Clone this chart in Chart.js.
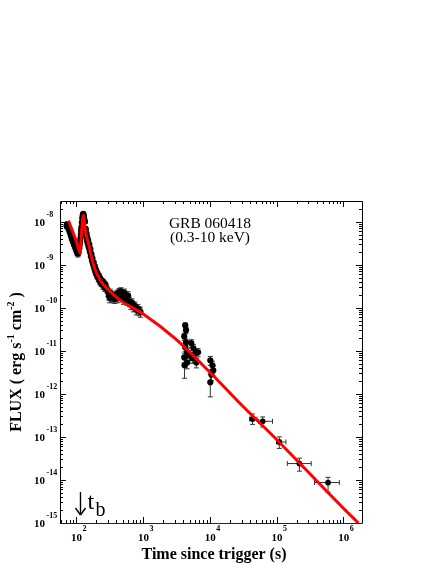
<!DOCTYPE html>
<html>
<head>
<meta charset="utf-8">
<script src="https://cdn.jsdelivr.net/npm/chart.js@4.4.0/dist/chart.umd.min.js"></script>
<style>
  html, body { margin: 0; padding: 0; background: #fff; }
  #wrap { width: 436px; height: 564px; }
</style>
</head>
<body>
<div id="wrap"><canvas id="grbChart" width="436" height="564"></canvas></div>
<script>
// GRB 060418 X-ray light curve
const earlyTime = [72, 74, 76, 78, 80, 82, 85, 88, 91, 94, 97, 100, 103, 106, 109, 112, 113.5, 115, 116.5, 118, 119, 120, 122, 124, 126, 128, 130, 132,
    136, 138, 140, 142, 144, 146, 148, 150, 152, 155, 158, 161, 164, 167, 170, 173, 176, 180, 184, 188, 192, 196, 200, 205, 210, 215, 220, 226, 232, 238, 245, 252, 260, 268, 276,
    290, 300, 310, 318, 326, 335, 345, 355, 368, 380, 395, 410, 425, 440, 455, 470, 490, 510, 530, 550, 575, 600, 630, 660, 690,
    720, 760, 800, 840, 880, 920];
const earlyFlux = [8.0e-9, 8.6e-9, 7.3e-9, 6.6e-9, 6.0e-9, 5.2e-9, 4.4e-9, 3.7e-9, 3.2e-9, 2.8e-9, 2.5e-9, 2.2e-9, 1.95e-9, 1.8e-9, 1.9e-9, 2.4e-9, 2.9e-9, 3.4e-9, 4.1e-9, 5.0e-9, 6.0e-9, 7.2e-9, 9.5e-9, 1.2e-8, 1.4e-8, 1.5e-8, 1.4e-8, 1.2e-8,
    1.0e-8, 6.8e-9, 6.5e-9, 4.6e-9, 5.2e-9, 3.6e-9, 4.2e-9, 3.0e-9, 3.6e-9, 2.5e-9, 2.9e-9, 2.0e-9, 2.3e-9, 1.55e-9, 1.75e-9, 1.25e-9, 1.4e-9, 1.0e-9, 1.1e-9, 8.0e-10, 8.9e-10, 6.6e-10, 7.4e-10, 5.6e-10, 6.2e-10, 4.8e-10, 5.4e-10, 4.1e-10, 4.7e-10, 3.7e-10, 4.2e-10, 3.3e-10, 3.8e-10, 2.9e-10, 3.4e-10,
    2.7e-10, 2.3e-10, 1.9e-10, 1.7e-10, 2.2e-10, 1.8e-10, 2.0e-10, 1.7e-10, 1.9e-10, 1.6e-10, 1.8e-10, 2.1e-10, 1.7e-10, 2.3e-10, 1.9e-10, 2.4e-10, 2.0e-10, 1.6e-10, 2.2e-10, 1.8e-10, 1.5e-10, 1.9e-10, 1.4e-10, 1.2e-10, 1.3e-10,
    1.05e-10, 1.1e-10, 9.0e-11, 9.5e-11, 8.5e-11, 8.0e-11];
const earlyErr = [1.1e-9, 1.2e-9, 1.0e-9, 0.9e-9, 0.8e-9, 0.7e-9, 0.6e-9, 0.5e-9, 0.45e-9, 0.4e-9, 0.35e-9, 0.3e-9, 0.3e-9, 0.3e-9, 0.3e-9, 0.35e-9, 0.4e-9, 0.45e-9, 0.5e-9, 0.6e-9, 0.7e-9, 0.8e-9, 1.0e-9, 1.2e-9, 1.3e-9, 1.4e-9, 1.3e-9, 1.2e-9,
    1.0e-9, 0.8e-9, 0.7e-9, 0.5e-9, 0.5e-9, 0.4e-9, 0.4e-9, 0.35e-9, 0.35e-9, 0.3e-9, 0.3e-9, 0.25e-9, 0.25e-9, 0.2e-9, 0.2e-9, 0.17e-9, 0.17e-9, 1.4e-10, 1.4e-10, 1.2e-10, 1.2e-10, 1.0e-10, 1.0e-10, 0.9e-10, 0.9e-10, 0.8e-10, 0.8e-10, 0.7e-10, 0.7e-10, 0.6e-10, 0.6e-10, 0.6e-10, 0.6e-10, 0.5e-10, 0.5e-10,
    0.5e-10, 0.5e-10, 0.4e-10, 0.4e-10, 0.5e-10, 0.4e-10, 0.4e-10, 0.4e-10, 0.4e-10, 0.35e-10, 0.4e-10, 0.45e-10, 0.4e-10, 0.5e-10, 0.4e-10, 0.5e-10, 0.45e-10, 0.4e-10, 0.5e-10, 0.4e-10, 0.35e-10, 0.45e-10, 0.35e-10, 0.3e-10, 0.3e-10,
    0.25e-10, 0.25e-10, 2.2e-11, 2.3e-11, 2.0e-11, 2.0e-11];

// second and third orbit
const midTime = [4300, 4420, 4160, 4420, 4300, 4600, 4160, 4600, 4200, 5300, 5700, 6100, 5500, 6300, 6700, 4950,
    10200, 11000, 11300, 10600, 10200];
const midFlux = [3.9e-11, 3.0e-11, 2.15e-11, 1.57e-11, 1.2e-11, 9.2e-12, 7.0e-12, 5.3e-12, 4.6e-12, 1.5e-11, 1.14e-11, 8.7e-12, 6.7e-12, 5.3e-12, 9.2e-12, 7.9e-12,
    6.0e-12, 4.6e-12, 3.5e-12, 2.8e-12, 1.85e-12];
const midErr = [0.5e-11, 0.5e-11, 0.4e-11, 0.3e-11, 0.25e-11, 2.0e-12, 1.8e-12, 1.5e-12, 2.3e-12, 0.3e-11, 0.25e-11, 2.0e-12, 1.6e-12, 1.3e-12, 2.0e-12, 2.0e-12,
    1.4e-12, 1.1e-12, 0.9e-12, 0.8e-12, 1.0e-12];

// late binned points with time bins
const lateTime = [4.37e4, 6.2e4, 1.1e5, 2.2e5, 5.9e5];
const lateFlux = [2.6e-13, 2.3e-13, 7.6e-14, 2.4e-14, 8.7e-15];
const lateTimeLo = [3.96e4, 5.4e4, 1.0e5, 1.45e5, 3.7e5];
const lateTimeHi = [5.1e4, 8.7e4, 1.38e5, 3.3e5, 8.7e5];
const lateFluxLo = [1.95e-13, 1.7e-13, 5.4e-14, 1.6e-14, 5.2e-15];
const lateFluxHi = [3.4e-13, 2.9e-13, 1.0e-13, 3.2e-14, 1.15e-14];

// model curve
const fitTime = [77, 90, 103, 115, 119, 122, 125, 128, 131, 135, 140, 146, 153, 162, 172, 193, 229, 272, 363, 484, 767, 1000, 3050, 1e4, 2.8e4, 1e5, 1e6, 1.68e6];
const fitFlux = [1.05e-8, 5.6e-9, 3.2e-9, 1.85e-9, 4.0e-9, 7.0e-9, 1.1e-8, 1.4e-8, 1.2e-8, 8.2e-9, 5.4e-9, 4.1e-9, 3.2e-9, 2.1e-9, 1.4e-9, 7.6e-10, 4.4e-10, 3.1e-10, 2.0e-10, 1.4e-10, 9.2e-11, 7.2e-11, 1.9e-11, 3.2e-12, 6.1e-13, 8.7e-14, 2.2e-15, 1.0e-15];

const xTickExp = [2, 3, 4, 5, 6];
const yTickExp = [-8, -9, -10, -11, -12, -13, -14, -15];
const breakTime = 115;

const SERIF = '"Liberation Serif", "Times New Roman", serif';

function toPoints(xs, ys) {
    return xs.map((v, i) => ({ x: v, y: ys[i] }));
}

// error bars, frame, ticks and texts
const decor = {
    id: 'decor',
    beforeDatasetsDraw(chart) {
        const { ctx, scales: { x, y } } = chart;
        ctx.save();
        ctx.strokeStyle = '#333';
        ctx.lineWidth = 1;
        chart.data.datasets.forEach(ds => {
            if (!ds.errY) return;
            ds.data.forEach((p, i) => {
                const px = x.getPixelForValue(p.x);
                const lo = Math.max(ds.errY[i][0], 1e-16);
                const y0 = y.getPixelForValue(lo), y1 = y.getPixelForValue(ds.errY[i][1]);
                ctx.beginPath();
                ctx.moveTo(px, y0); ctx.lineTo(px, y1);
                ctx.moveTo(px - 2.5, y0); ctx.lineTo(px + 2.5, y0);
                ctx.moveTo(px - 2.5, y1); ctx.lineTo(px + 2.5, y1);
                if (ds.errX) {
                    const py = y.getPixelForValue(p.y);
                    const x0 = x.getPixelForValue(ds.errX[i][0]), x1 = x.getPixelForValue(ds.errX[i][1]);
                    ctx.moveTo(x0, py); ctx.lineTo(x1, py);
                    ctx.moveTo(x0, py - 2.5); ctx.lineTo(x0, py + 2.5);
                    ctx.moveTo(x1, py - 2.5); ctx.lineTo(x1, py + 2.5);
                }
                ctx.stroke();
            });
        });
        ctx.restore();
    },
    afterDraw(chart) {
        const { ctx, chartArea: a, scales: { x, y } } = chart;
        ctx.save();
        ctx.lineWidth = 1;
        ctx.strokeStyle = '#000';
        const seg = (x0, y0, x1, y1) => { ctx.beginPath(); ctx.moveTo(x0, y0); ctx.lineTo(x1, y1); ctx.stroke(); };

        // inward ticks on all four sides
        for (let e = 1; e <= 6; e++) {
            for (let m = 1; m <= 9; m++) {
                const v = m * Math.pow(10, e);
                if (v < x.min || v > x.max) continue;
                const px = Math.round(x.getPixelForValue(v)) + 0.5;
                const len = m === 1 ? 6 : 3;
                seg(px, a.bottom, px, a.bottom - len);
                seg(px, a.top, px, a.top + len);
            }
        }
        for (let e = -16; e <= -8; e++) {
            for (let m = 1; m <= 9; m++) {
                const v = m * Math.pow(10, e);
                if (v < y.min * 0.999 || v > y.max) continue;
                const py = Math.round(y.getPixelForValue(v)) + 0.5;
                const len = m === 1 ? 6 : 3;
                seg(a.left, py, a.left + len, py);
                seg(a.right, py, a.right - len, py);
            }
        }

        // frame
        const L = Math.round(a.left) + 0.5, R = Math.round(a.right) + 0.5;
        const T = Math.round(a.top) + 0.5, B = Math.round(a.bottom) + 0.5;
        seg(L, B, L, T); seg(L, T, R, T); seg(R, T, R, B);
        ctx.strokeStyle = '#7a0000';
        seg(L, B, R, B);

        // tick labels
        ctx.fillStyle = '#000';
        xTickExp.forEach(e => {
            const px = x.getPixelForValue(Math.pow(10, e));
            ctx.font = 'bold 11px ' + SERIF;
            ctx.textAlign = 'center';
            ctx.textBaseline = 'alphabetic';
            ctx.fillText('10', px + 0.5, 541);
            ctx.font = 'bold 8px ' + SERIF;
            ctx.textAlign = 'left';
            ctx.fillText(String(e), px + 6.5, 531);
        });
        yTickExp.forEach(e => {
            const py = y.getPixelForValue(Math.pow(10, e));
            ctx.font = 'bold 11px ' + SERIF;
            ctx.textAlign = 'right';
            ctx.textBaseline = 'alphabetic';
            ctx.fillText('10', 45, py + 4);
            ctx.font = 'bold 8px ' + SERIF;
            ctx.textAlign = 'left';
            ctx.fillText(String(e), 46.5, py - 5);
        });

        // axis titles
        const cx = (a.left + a.right) / 2;
        ctx.font = 'bold 16px ' + SERIF;
        ctx.textAlign = 'center';
        ctx.fillText('Time since trigger (s)', cx + 3, 559);

        const parts = [
            ['FLUX ( erg s', false], ['-1', true], [' cm', false], ['-2', true], [' )', false]
        ];
        const big = 'bold 16px ' + SERIF, small = 'bold 10px ' + SERIF;
        let total = 0;
        parts.forEach(([t, sup]) => { ctx.font = sup ? small : big; total += ctx.measureText(t).width; });
        ctx.translate(21, (a.top + a.bottom) / 2);
        ctx.rotate(-Math.PI / 2);
        ctx.textAlign = 'left';
        let off = -total / 2;
        parts.forEach(([t, sup]) => {
            ctx.font = sup ? small : big;
            ctx.fillText(t, off, sup ? -7 : 0);
            off += ctx.measureText(t).width;
        });
        ctx.setTransform(1, 0, 0, 1, 0, 0);

        // burst name and band
        ctx.font = '15.5px ' + SERIF;
        ctx.textAlign = 'center';
        ctx.fillText('GRB 060418', 210, 228);
        ctx.fillText('(0.3-10 keV)', 210, 242);

        // break time marker
        const bx = Math.round(x.getPixelForValue(breakTime)) + 0.5;
        ctx.lineWidth = 1.4;
        ctx.strokeStyle = '#000';
        seg(bx, 492, bx, 515);
        seg(bx - 5, 508, bx, 515);
        seg(bx + 5, 508, bx, 515);
        ctx.textAlign = 'left';
        ctx.font = '24px ' + SERIF;
        ctx.fillText('t', bx + 7, 508.5);
        ctx.font = '20px ' + SERIF;
        ctx.fillText('b', bx + 15, 516);
        ctx.restore();
    }
};

const earlyPts = toPoints(earlyTime, earlyFlux);
const midPts = toPoints(midTime, midFlux);
const latePts = toPoints(lateTime, lateFlux);

const ctx = document.getElementById('grbChart').getContext('2d');
const grbChart = new Chart(ctx, {
    type: 'scatter',
    data: {
        datasets: [{
            type: 'line',
            label: 'model',
            data: toPoints(fitTime, fitFlux),
            borderColor: '#ff0000',
            borderWidth: 3,
            pointRadius: 0,
            fill: false,
            cubicInterpolationMode: 'monotone',
            order: 0
        },
        {
            label: 'XRT',
            data: earlyPts.concat(midPts),
            errY: earlyFlux.map((f, i) => [f - earlyErr[i], f + earlyErr[i]])
                .concat(midFlux.map((f, i) => [f - midErr[i], f + midErr[i]])),
            backgroundColor: '#000',
            borderWidth: 0,
            pointRadius: 3.1,
            order: 1
        },
        {
            label: 'XRT late',
            data: latePts,
            errY: lateFlux.map((f, i) => [lateFluxLo[i], lateFluxHi[i]]),
            errX: lateTime.map((t, i) => [lateTimeLo[i], lateTimeHi[i]]),
            backgroundColor: '#000',
            borderWidth: 0,
            pointRadius: 2.9,
            order: 1
        }]
    },
    options: {
        responsive: false,
        animation: false,
        layout: { padding: { left: 60, top: 201, right: 74, bottom: 41 } },
        plugins: {
            legend: { display: false },
            tooltip: { enabled: false }
        },
        scales: {
            x: { type: 'logarithmic', min: 57.5, max: 1.9e6, display: false },
            y: { type: 'logarithmic', min: 1e-15, max: 3e-8, display: false }
        }
    },
    plugins: [decor]
});
</script>
</body>
</html>
